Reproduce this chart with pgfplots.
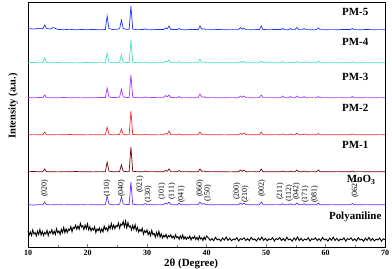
\documentclass[border=0pt]{standalone}
\usepackage{fontspec}
\setmainfont{Liberation Serif}
\usepackage{pgfplots}
\usepackage{pgfplotstable}
\pgfplotsset{compat=1.18}
\definecolor{cpmfive}{RGB}{30,55,250}
\definecolor{cpmfour}{RGB}{70,225,200}
\definecolor{cpmthree}{RGB}{165,55,250}
\definecolor{cpmtwo}{RGB}{250,45,45}
\definecolor{cpmone}{RGB}{115,0,10}
\definecolor{cmoo}{RGB}{105,45,250}
\pgfplotstableread{
x moo pm1 pm2 pm3 pm4 pm5
10 0.3 0.3 0.2 0.5 0.3 1.5
11 0.0 0.5 0.4 0.2 0.6 1.0
12 0.4 0.2 0.3 0.6 0.2 1.8
12.5 0.2 0.4 0.1 0.3 0.4 1.2
12.8 3 3 3 3 5 5
13.1 0.3 0.3 0.3 0.4 0.5 1.5
13.8 0.1 0.2 0.2 0.3 0.2 1.0
14.2 0.2 0.3 0.2 0.3 0.3 2.5
15 0.4 0.1 0.4 0.2 0.5 0.6
16 0.1 0.4 0.2 0.5 0.2 0.3
17 0.3 0.2 0.5 0.2 0.4 0.7
18 0.2 0.5 0.2 0.4 0.1 0.2
19 0.4 0.2 0.3 0.1 0.3 0.5
20 0.1 0.3 0.1 0.4 0.5 0.3
21 0.3 0.1 0.4 0.2 0.2 0.6
22 0.2 0.4 0.2 0.5 0.4 0.2
23.0 0.3 0.3 0.3 0.4 0.3 0.5
23.3 9 10 8 10 10 14
23.6 1.0 1.0 0.8 1.2 1.0 1.5
24.2 0.3 0.3 0.2 0.4 0.3 0.5
25 0.4 0.2 0.4 0.6 0.5 0.8
25.4 0.8 0.6 0.6 1.0 0.8 1.2
25.7 8 7 6 9 8 10
26.0 1.0 0.8 0.7 1.2 1.0 1.5
26.6 0.4 0.3 0.3 0.5 0.4 0.6
27.0 0.5 0.4 0.4 0.6 0.5 0.7
27.3 23 25 24 23 23 24
27.6 0.8 0.7 0.6 0.8 0.7 0.9
28.3 0.2 0.3 0.2 0.4 0.3 0.3
29.4 0.3 0.2 0.3 0.2 0.4 0.5
29.7 1.5 1.0 0.8 1.0 0.8 1.2
30.0 0.3 0.3 0.2 0.3 0.3 0.4
31 0.2 0.4 0.3 0.5 0.2 0.3
32 0.4 0.2 0.1 0.3 0.4 0.6
32.8 0.3 0.3 0.3 0.4 0.3 0.4
33.1 2 1.5 1.5 2.5 2 2
33.4 0.8 0.8 0.8 1.2 1.0 1.0
33.7 3 3 4 3 3 4
34.0 0.4 0.4 0.4 0.5 0.4 0.6
35.1 0.2 0.3 0.3 0.3 0.2 0.4
35.4 2 1.5 1 1.5 1.5 1.5
35.7 0.3 0.2 0.3 0.3 0.3 0.4
36.5 0.2 0.4 0.2 0.4 0.2 0.3
37.5 0.4 0.2 0.3 0.2 0.4 0.5
38.6 0.3 0.3 0.3 0.4 0.4 0.5
38.9 3 3 3 4 4 4
39.2 0.8 0.6 0.6 0.9 0.7 1.0
39.6 1.5 1.0 0.8 1.2 1.0 1.2
39.9 0.3 0.2 0.3 0.3 0.3 0.4
41 0.2 0.4 0.2 0.4 0.2 0.3
42 0.4 0.2 0.3 0.2 0.4 0.5
43 0.2 0.3 0.1 0.3 0.2 0.3
44 0.3 0.1 0.3 0.4 0.3 0.4
45.4 0.2 0.3 0.2 0.3 0.2 0.4
45.7 2 2 1.5 2 1.5 2.5
46.0 0.6 0.6 0.5 0.6 0.5 0.8
46.3 2 2 2 2 1.5 2
46.6 0.3 0.3 0.3 0.4 0.3 0.4
47.5 0.2 0.4 0.2 0.3 0.2 0.3
48.9 0.3 0.2 0.3 0.4 0.3 0.5
49.2 3 3 3 3 2 4
49.5 0.4 0.3 0.3 0.4 0.3 0.5
50.5 0.2 0.3 0.2 0.4 0.3 0.3
51.5 0.4 0.2 0.4 0.2 0.2 0.5
52.5 0.3 0.3 0.2 0.4 0.3 0.4
52.8 1.2 1.0 1.0 2 1.2 1.5
53.1 0.3 0.3 0.2 0.4 0.3 0.4
53.8 0.2 0.2 0.3 0.3 0.2 0.3
54.1 1.2 1.0 1.0 1.5 1.0 1.5
54.4 0.3 0.3 0.2 0.4 0.3 0.4
54.9 0.3 0.2 0.3 0.3 0.3 0.4
55.2 2 2 2 2 1.5 2.5
55.5 0.3 0.3 0.3 0.4 0.3 0.4
56.1 0.3 0.3 0.2 0.3 0.3 0.4
56.4 1.2 1.0 1.0 1.5 1.0 1.5
56.7 0.3 0.2 0.3 0.3 0.3 0.4
57.6 0.2 0.4 0.2 0.4 0.2 0.3
58.5 0.3 0.3 0.3 0.4 0.3 0.4
58.8 2 2 1.5 1.5 2 2
59.1 0.3 0.3 0.3 0.3 0.3 0.4
60 0.2 0.3 0.2 0.4 0.2 0.3
61 0.4 0.2 0.3 0.2 0.4 0.4
62 0.2 0.4 0.2 0.4 0.2 0.3
63 0.3 0.2 0.3 0.3 0.3 0.5
64.2 0.3 0.3 0.3 0.4 0.3 0.4
64.5 1.5 1.0 1.0 1.5 1.2 1.5
64.8 0.3 0.3 0.3 0.4 0.3 0.4
66 0.2 0.4 0.2 0.3 0.2 0.3
67 0.4 0.2 0.3 0.4 0.4 0.5
68 0.2 0.3 0.2 0.2 0.2 0.3
69 0.3 0.2 0.4 0.4 0.3 0.4
70 0.2 0.3 0.2 0.3 0.2 0.3
}\peaks
\pgfplotstableread{
x y
10.0 16.5
10.2 12
10.4 15
10.6 11.5
10.8 17
11.0 13
11.2 14.5
11.4 11
11.6 16
11.8 12.5
12.0 17.5
12.2 12
12.4 15.5
12.6 11.5
12.8 14.5
13.0 13
13.2 16.6
13.4 11.3
13.6 15.4
13.8 14
14.0 17.2
14.2 12.8
14.4 15.9
14.6 12.6
14.8 18.2
15.0 14.3
15.2 16
15.4 12.6
15.6 17.7
15.8 14.4
16.0 19.5
16.2 14.3
16.4 18.2
16.6 14.5
16.8 17.8
17.0 16.7
17.2 20.5
17.4 15.3
17.6 19.7
17.8 18.5
18.0 21.8
18.2 17.7
18.4 21
18.6 17.8
18.8 23.7
19.0 20
19.2 21.2
19.4 17.4
19.6 22.1
19.8 18.3
20.0 23
20.2 17.2
20.4 20.4
20.6 16.1
20.8 18.8
21.0 17
21.2 20.2
21.4 14.4
21.6 18.1
21.8 16.3
22.0 19
22.2 14.9
22.4 18.2
22.6 15.1
22.8 20.9
23.0 17.3
23.2 19.1
23.4 16
23.6 21.3
23.8 18.2
24.0 23.5
24.2 18.3
24.4 22
24.6 18.3
24.8 21.5
25.0 20.3
25.2 24
25.4 18.8
25.6 23
25.8 21.8
26.0 25.5
26.2 20.2
26.4 25.9
26.6 19.1
26.8 24.3
27.0 20
27.2 21.1
27.4 17.1
27.6 21.7
27.8 17.8
28.0 22.3
28.2 16.4
28.4 19.5
28.6 15
28.8 17.6
29.0 15.7
29.2 18.7
29.4 12.8
29.6 16.4
29.8 14.4
30.0 17
30.2 12.3
30.4 15
30.6 11.3
30.8 16.6
31.0 12.3
31.2 13.6
31.4 9.9
31.6 14.6
31.8 10.9
32.0 15.7
32.2 9.9
32.4 13.2
32.6 9
32.8 11.7
33.0 10
33.2 12.7
33.4 8.7
33.6 11.4
33.8 10.2
34.0 12.3
34.2 9
34.4 11
34.6 8.4
34.8 12.2
35.0 9.3
35.2 10.3
35.4 7.7
35.6 11.1
35.8 8.6
36.0 12
36.2 8
36.4 10.4
36.6 7.6
36.8 9.7
37.0 8.5
37.2 11
37.4 7
37.6 9.8
37.8 8.6
38.0 10.8
38.2 7.5
38.4 9.6
38.6 7
38.8 10.9
39.0 8
39.2 9.1
39.4 6.5
39.6 10
39.8 7.5
40.0 11
40.3 9.3
40.6 6.6
40.9 8.4
41.2 6.3
41.5 9.6
41.8 7.2
42.1 8.1
42.4 6
42.7 9
43.0 6.9
43.3 9.9
43.6 6.6
43.9 8.7
44.2 6.3
44.5 8.1
44.8 7.2
45.1 9.3
45.4 6
45.7 8.4
46.0 7.5
46.3 9.3
46.6 6.6
46.9 8.4
47.2 6.3
47.5 9.6
47.8 7.2
48.1 8.1
48.4 6
48.7 9
49.0 6.9
49.3 9.9
49.6 6.6
49.9 8.7
50.2 6.3
50.5 8.1
50.8 7.2
51.1 9.3
51.4 6
51.7 8.4
52.0 7.5
52.3 9.5
52.6 6.5
52.9 8.4
53.2 6.2
53.5 9.8
53.8 7.1
54.1 8
54.4 5.9
54.7 9.1
55.0 6.8
55.3 10
55.6 6.5
55.9 8.6
56.2 6.2
56.5 8
56.8 7.1
57.1 9.2
57.4 5.9
57.7 8.3
58.0 7.4
58.3 9.2
58.6 6.5
58.9 8.3
59.2 6.2
59.5 9.5
59.8 7.1
60.1 8
60.4 5.9
60.7 8.9
61.0 6.8
61.3 9.8
61.6 6.5
61.9 8.6
62.2 6.2
62.5 8
62.8 7.1
63.1 9.2
63.4 5.9
63.7 8.3
64.0 7.4
64.3 9.1
64.6 6.4
64.9 8.2
65.2 6.1
65.5 9.4
65.8 7
66.1 7.9
66.4 5.8
66.7 8.8
67.0 6.7
67.3 9.6
67.6 6.4
67.9 8.5
68.2 6.1
68.5 7.9
68.8 7
69.1 9
69.4 5.8
69.7 8.2
70.0 7.3
}\pani
\begin{document}
\begin{tikzpicture}
\begin{axis}[
  width=357bp, height=245bp, scale only axis,
  xmin=10, xmax=70, ymin=0, ymax=245,
  clip=false,
  axis line style={line width=0.8pt},
  ytick=\empty,
  xtick={10,20,30,40,50,60,70},
  minor x tick num=1,
  xtick pos=bottom, tick align=inside,
  major tick length=3bp, minor tick length=2bp,
  /pgf/number format/assume math mode=true,
  xticklabel style={font=\fontsize{8}{9}\selectfont\bfseries, yshift=0bp},
  xlabel={2θ (Degree)},
  xlabel style={font=\fontsize{11}{12}\selectfont\bfseries, at={(rel axis cs:0.457,0)}, yshift=-17bp, anchor=center},
  ylabel={Intensity (a.u.)},
  ylabel style={font=\fontsize{10.5}{12}\selectfont\bfseries, at={(rel axis cs:-0.042,0.576)}, anchor=center},
  every axis plot/.append style={line width=0.7pt},
]
\addplot[black, line width=0.9pt] table[x=x, y=y] {\pani};
\addplot[cmoo] table[x=x, y expr=\thisrow{moo}+42] {\peaks};
\addplot[cpmone] table[x=x, y expr=\thisrow{pm1}+75] {\peaks};
\addplot[cpmtwo] table[x=x, y expr=\thisrow{pm2}+112] {\peaks};
\addplot[cpmthree] table[x=x, y expr=\thisrow{pm3}+149] {\peaks};
\addplot[cpmfour] table[x=x, y expr=\thisrow{pm4}+184] {\peaks};
\addplot[cpmfive] table[x=x, y expr=\thisrow{pm5}+217] {\peaks};
\begin{scope}[every node/.style={font=\fontsize{11}{12}\selectfont\bfseries}]
\node at (axis cs:65,235) {PM-5};
\node at (axis cs:65,205) {PM-4};
\node at (axis cs:65,170) {PM-3};
\node at (axis cs:65,139) {PM-2};
\node at (axis cs:65,102) {PM-1};
\node at (axis cs:66,67) {MoO\textsubscript{3}};
\node at (axis cs:65,30) {Polyaniline};
\end{scope}
\begin{scope}[every node/.style={rotate=90, anchor=west, inner sep=0pt, font=\fontsize{8}{9}\selectfont}]
\node at (axis cs:12.8,50) {(020)};
\node at (axis cs:23.3,50) {(110)};
\node at (axis cs:25.7,50) {(040)};
\node at (axis cs:28.8,54) {(021)};
\node at (axis cs:30.2,44) {(130)};
\node at (axis cs:32.5,47) {(101)};
\node at (axis cs:34.2,47) {(111)};
\node at (axis cs:35.8,44) {(041)};
\node at (axis cs:38.9,50) {(060)};
\node at (axis cs:40.2,45) {(150)};
\node at (axis cs:45.1,47) {(200)};
\node at (axis cs:46.5,44) {(210)};
\node at (axis cs:49.3,50) {(002)};
\node at (axis cs:52.4,47) {(211)};
\node at (axis cs:53.9,45) {(112)};
\node at (axis cs:55.1,47) {(042)};
\node at (axis cs:56.6,44) {(171)};
\node at (axis cs:58.2,44) {(081)};
\node at (axis cs:65.0,49) {(062)};
\end{scope}
\end{axis}
\pgfresetboundingbox
\useasboundingbox ([xshift=-28bp,yshift=-22bp]current axis.south west) rectangle ([xshift=7bp,yshift=2bp]current axis.north east);
\end{tikzpicture}
\end{document}
